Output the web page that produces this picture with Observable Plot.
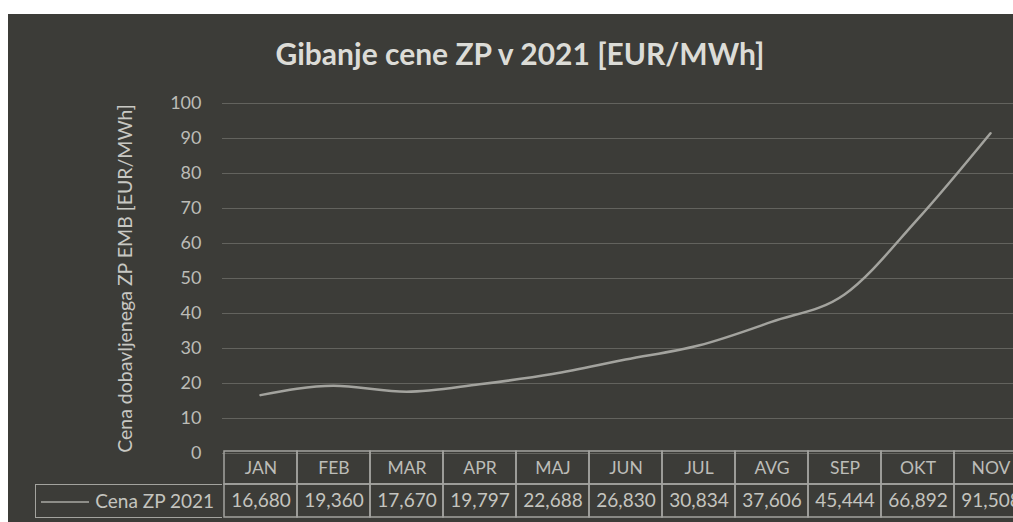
<!DOCTYPE html>
<html>
<head>
<meta charset="utf-8">
<script src="https://cdn.jsdelivr.net/npm/d3@7"></script>
<script src="https://cdn.jsdelivr.net/npm/@observablehq/plot@0.6"></script>
<style>
  html, body { margin: 0; padding: 0; background: #ffffff; overflow: hidden; }
  #wrap { position: relative; width: 1013px; height: 522px; overflow: hidden; background: #ffffff; }
  #panel { position: absolute; left: 8px; top: 14px; width: 1005px; height: 508px; background: #3c3c38; }
  #title { position: absolute; left: 0; width: 1040px; top: 35px; text-align: center;
           font-family: Lato, "Open Sans", sans-serif; font-weight: bold; font-size: 30px; color: #dcdcd7; }
  .layer { position: absolute; left: 0; top: 0; }
  #legend { position: absolute; left: 35px; top: 484px; width: 186px; height: 32px;
            border: 1.5px solid #a3a39e; border-right: none; box-sizing: content-box;
            font-family: Lato, "Open Sans", sans-serif; font-size: 19px; color: #c4c4bf; }
  #legend .sw { position: absolute; left: 5px; top: 16px; width: 48px; border-top: 2px solid #8d8d88; }
  #legend .lb { position: absolute; right: 8px; top: 4px; }
</style>
</head>
<body>
<div id="wrap">
  <div id="panel"></div>
  <div id="title">Gibanje cene ZP v 2021 [EUR/MWh]</div>
</div>
<script>
// ---- data ----
const months = ["JAN", "FEB", "MAR", "APR", "MAJ", "JUN", "JUL", "AVG", "SEP", "OKT", "NOV"];
const prices = [16.680, 19.360, 17.670, 19.797, 22.688, 26.830, 30.834, 37.606, 45.444, 66.892, 91.508];
const yTicks = [0, 10, 20, 30, 40, 50, 60, 70, 80, 90, 100];
const seriesName = "Cena ZP 2021";
const yLabel = "Cena dobavljenega ZP EMB [EUR/MWh]";
const rowKeys = ["Mesec", seriesName];

const data = months.map((m, i) => ({month: m, price: prices[i]}));
const fmt = v => d3.format(".3f")(v).replace(".", ",");

const W = 1013, H = 522;
const xRange = [222, 222 + 73.3 * months.length];
const textColor = "#c4c4bf";
const font = "Lato, 'Open Sans', sans-serif";

const chart = Plot.plot({
  width: W, height: H,
  marginLeft: 222, marginRight: 0, marginTop: 103, marginBottom: 69,
  style: {background: "transparent", fontFamily: font, color: textColor, overflow: "hidden", maxWidth: "none"},
  x: {type: "point", domain: months, range: xRange, padding: 0.5, axis: null},
  y: {domain: [0, 100], range: [453, 103]},
  marks: [
    Plot.gridY(yTicks, {stroke: "#63635e", strokeOpacity: 1, strokeWidth: 1}),
    Plot.axisY(yTicks, {tickSize: 0, tickPadding: 21, fontSize: 18, fill: "#bcbcb7",
      label: yLabel, labelAnchor: "center", labelOffset: 104, labelArrow: false}),
    Plot.lineY(data, {x: "month", y: "price", stroke: "#a3a39e", strokeWidth: 2.5, curve: "monotone-x"})
  ]
});
chart.classList.add("layer");
// enlarge the rotated axis label
chart.querySelectorAll("text").forEach(t => {
  if (t.textContent === yLabel) {
    t.setAttribute("font-size", 19.5);
    t.style.fontSize = "19.5px";
    t.setAttribute("fill", "#c8c8c3");
  }
});
document.getElementById("wrap").appendChild(chart);

const cells = [];
months.forEach((m, i) => {
  cells.push({month: m, row: rowKeys[0], label: m});
  cells.push({month: m, row: rowKeys[1], label: fmt(prices[i])});
});

const table = Plot.plot({
  width: W, height: H,
  margin: 0,
  style: {background: "transparent", fontFamily: font, color: textColor, overflow: "hidden", maxWidth: "none"},
  x: {type: "band", domain: months, range: xRange, padding: 0, axis: null},
  y: {type: "band", domain: rowKeys, range: [451, 517], padding: 0, axis: null},
  marks: [
    Plot.cell(cells, {x: "month", y: "row", fill: "none", stroke: "#a3a39e", strokeWidth: 1.5, inset: 0}),
    Plot.text(cells.filter(d => d.row === rowKeys[0]), {x: "month", y: "row", text: "label", fontSize: 17.5, fill: "#bdbdb8"}),
    Plot.text(cells.filter(d => d.row === rowKeys[1]), {x: "month", y: "row", text: "label", fontSize: 19, fill: "#c4c4bf"})
  ]
});
table.classList.add("layer");
document.getElementById("wrap").appendChild(table);

const legend = document.createElement("div");
legend.id = "legend";
legend.innerHTML = '<div class="sw"></div><div class="lb">' + seriesName + '</div>';
document.getElementById("wrap").appendChild(legend);
</script>
</body>
</html>
